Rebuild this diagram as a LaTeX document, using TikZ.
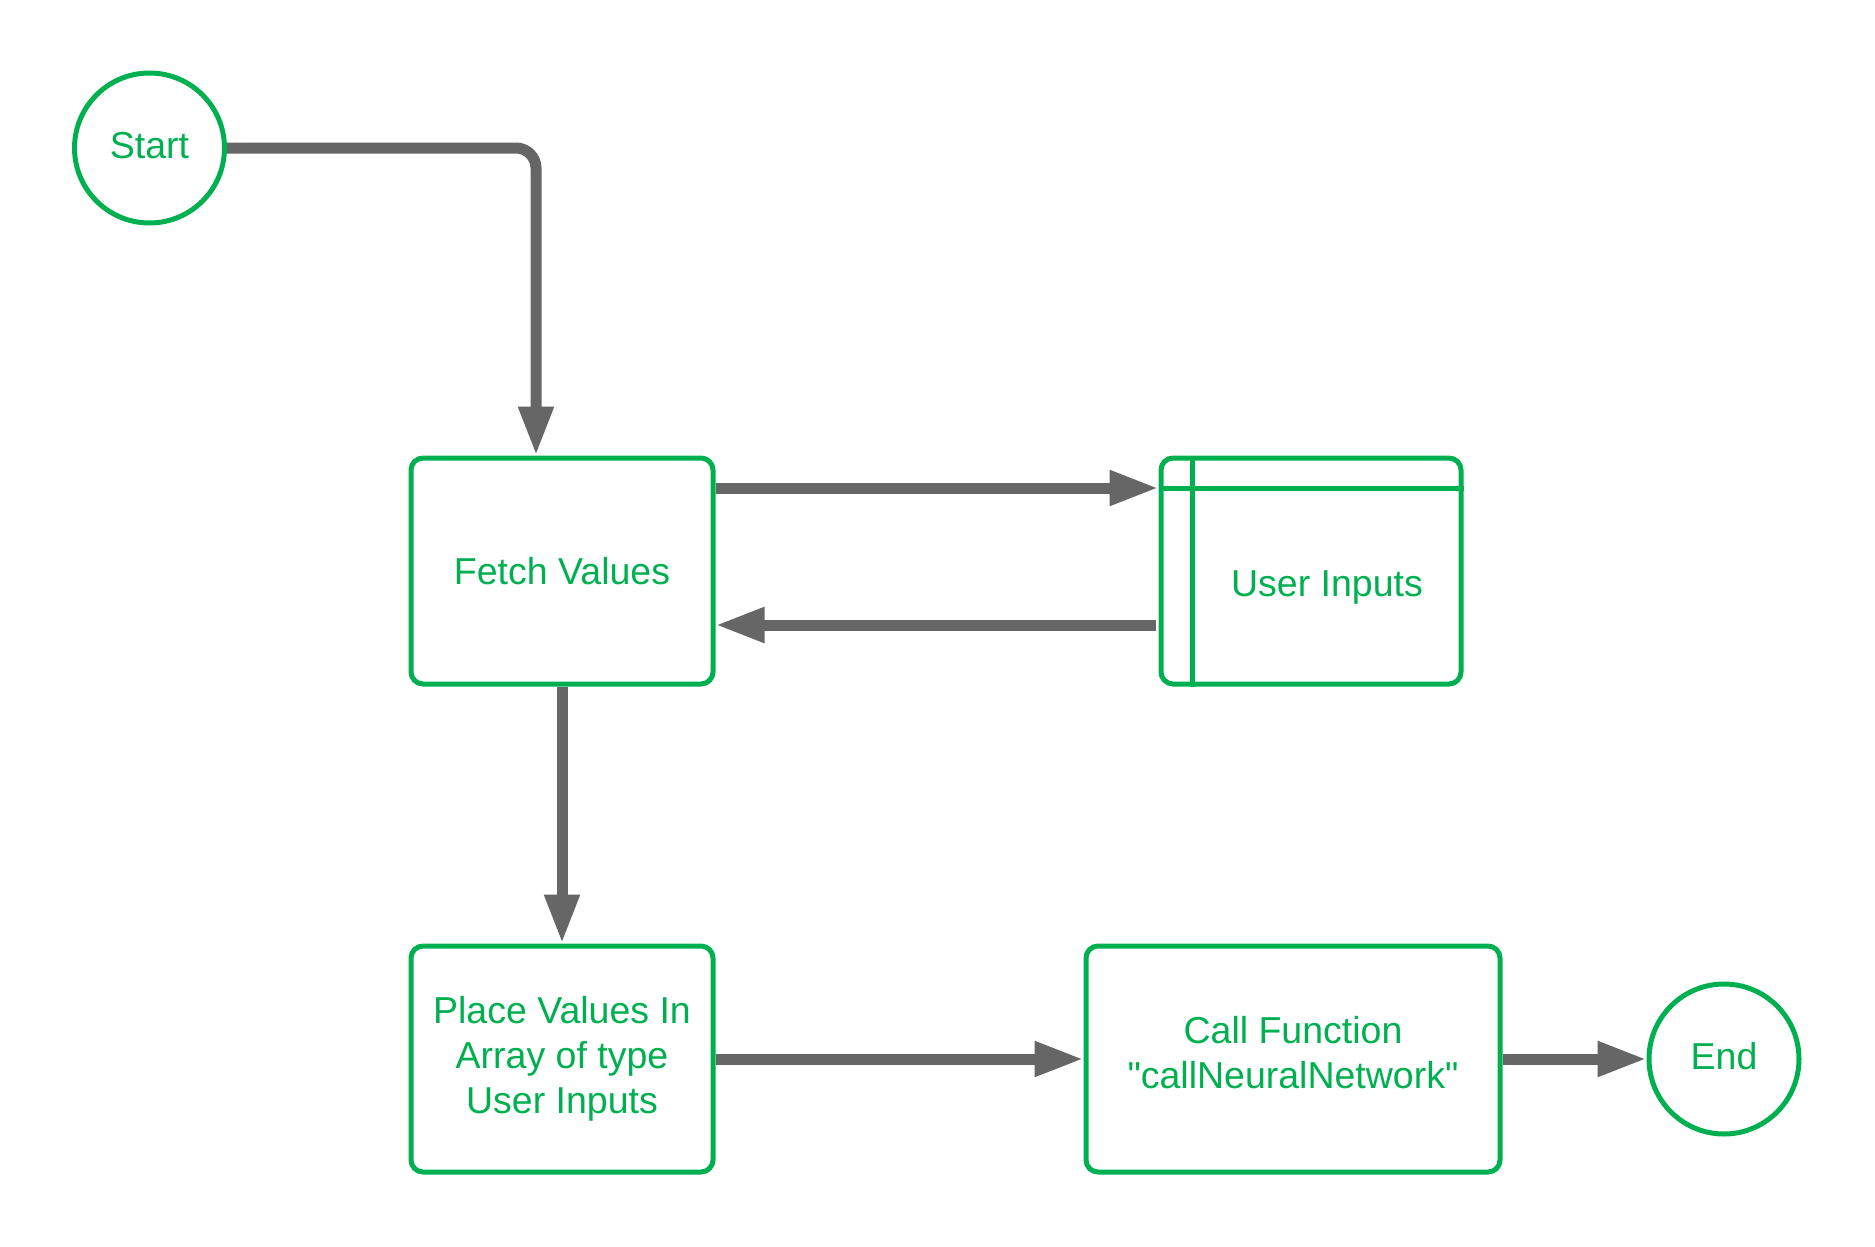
\documentclass[tikz,border=0pt]{standalone}
\usepackage{fontspec}
\setmainfont{Liberation Sans}[Ligatures=TeXOff]
\usetikzlibrary{arrows.meta}
\definecolor{flowgreen}{HTML}{00B050}
\definecolor{flowgrey}{HTML}{666666}
\begin{document}
\begin{tikzpicture}[x=1pt,y=-1pt,
  every node/.style={font=\fontsize{37.5}{45}\selectfont, text=flowgreen, align=center, inner sep=0pt},
  procbox/.style={draw=flowgreen, line width=5pt, rounded corners=12pt, minimum height=226pt},
  termcirc/.style={draw=flowgreen, line width=5pt, circle, minimum size=150pt},
  conn/.style={draw=flowgrey, line width=11pt, -{Triangle[length=49pt,width=33pt]}},
  inner/.style={draw=flowgreen, line width=5pt}
]
\useasboundingbox (0,0) rectangle (1875,1247);

\node[termcirc] (start) at (149.5,148) {\raisebox{6pt}{Start}};
\node[procbox, minimum width=302pt] (fetch) at (562,571) {Fetch Values};
\node[procbox, minimum width=300pt] (userin) at (1311,571) {};
\node (userlbl) at (1327,587) {User Inputs};
\node[procbox, minimum width=302pt] (place) at (562,1059) {Place Values In\\Array of type\\User Inputs};
\node[procbox, minimum width=414pt] (call) at (1293,1059) {};
\node (calllbl) at (1293,1053) {Call Function\\"callNeuralNetwork"};
\node[termcirc] (end) at (1724,1059) {\raisebox{6pt}{End}};

% inner lines of the User Inputs store
\draw[inner] (userin.north west -| 1192,0) -- (userin.south west -| 1192,0);
\draw[inner] (userin.west |- 0,488) -- (userin.east |- 0,488);

% connectors
\draw[conn, rounded corners=20pt] (start.east) -| ([xshift=-26pt]fetch.north);
\draw[conn] (fetch.east |- 0,488) -- (userin.west |- 0,488);
\draw[conn, shorten <=3pt] (userin.west |- 0,625) -- (fetch.east |- 0,625);
\draw[conn] (fetch.south) -- (place.north);
\draw[conn] (place.east) -- (call.west);
\draw[conn] (call.east) -- (end.west);
\end{tikzpicture}
\end{document}
